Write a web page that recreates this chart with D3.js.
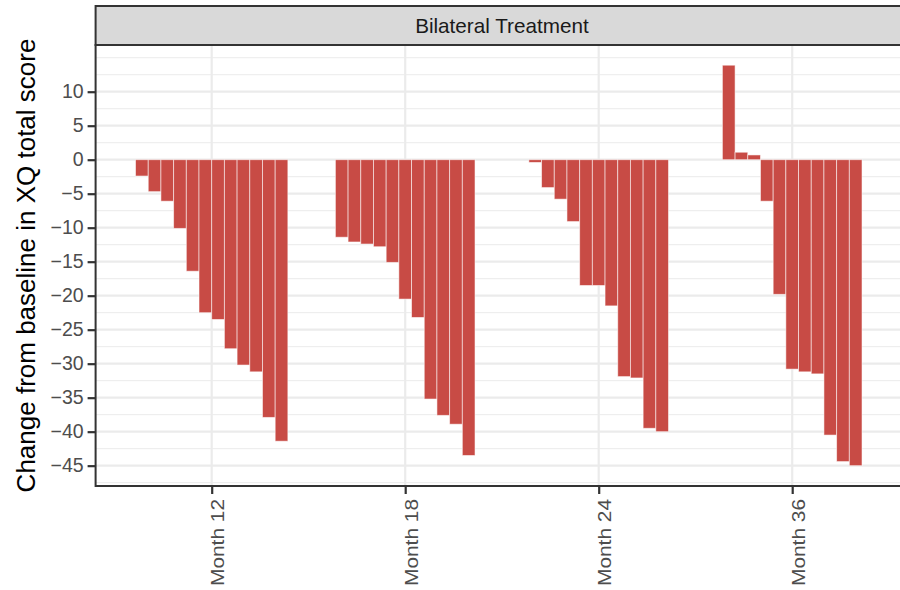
<!DOCTYPE html>
<html lang="en">
<head>
<meta charset="UTF-8">
<title>Bilateral Treatment</title>
<style type="text/css">
    body { margin: 0; background: white; }
    svg { display: block; font-family: "Liberation Sans", Arial, sans-serif; }
    .tick-label { fill: #4d4d4d; font-size: 19.5px; }
</style>
<script src="https://cdn.jsdelivr.net/npm/d3@7"></script>
</head>
<body>
<svg id="chart"></svg>
<script>
// Data, one array per visit, bars sorted within each visit
var visits = ["Month 12", "Month 18", "Month 24", "Month 36"];
var month12 = [-2.4, -4.7, -6.1, -10.1, -16.4, -22.5, -23.5, -27.8, -30.2, -31.2, -37.9, -41.4];
var month18 = [-11.4, -12.1, -12.4, -12.8, -15.1, -20.5, -23.2, -35.2, -37.6, -38.9, -43.5];
var month24 = [-0.4, -4.1, -5.8, -9.1, -18.5, -18.5, -21.5, -31.9, -32.1, -39.5, -40.0];
var month36 = [13.9, 1.1, 0.7, -6.1, -19.8, -30.8, -31.2, -31.5, -40.5, -44.4, -45.0];
var yTicks = [10, 5, 0, -5, -10, -15, -20, -25, -30, -35, -40, -45];
var panelTitle = "Bilateral Treatment";
var yTitle = "Change from baseline in XQ total score";

var series = [month12, month18, month24, month36];

var svgWidth = 900;
var svgHeight = 590;
var pLeft = 95.6, pRight = 908.3;   // panel runs past the right edge, like the picture
var pTop = 45, pBottom = 486;
var barSlot = 0.0656;               // share of one visit step taken by each bar

var svg = d3.select("#chart")
    .attr("width", svgWidth)
    .attr("height", svgHeight);

var xs = d3.scalePoint().domain(visits).range([pLeft, pRight]).padding(0.6);
var ys = d3.scaleLinear().domain([-47.99, 16.87]).range([pBottom, pTop]);

// minor and major grid
var minor = d3.range(-47.5, 16, 2.5).filter(function(v) { return v % 5 != 0; });
svg.append("g").selectAll("line")
    .data(minor)
    .enter().append("line")
    .attr("x1", pLeft).attr("x2", pRight)
    .attr("y1", function(d) { return ys(d); })
    .attr("y2", function(d) { return ys(d); })
    .style("stroke", "#ebebeb").style("stroke-width", 1);

svg.append("g").selectAll("line")
    .data(yTicks.concat([15]))
    .enter().append("line")
    .attr("x1", pLeft).attr("x2", pRight)
    .attr("y1", function(d) { return ys(d); })
    .attr("y2", function(d) { return ys(d); })
    .style("stroke", "#ebebeb").style("stroke-width", function(d) { return d == 15 ? 1 : 2.2; });

svg.append("g").selectAll("line")
    .data(visits)
    .enter().append("line")
    .attr("x1", function(d) { return xs(d); })
    .attr("x2", function(d) { return xs(d); })
    .attr("y1", pTop).attr("y2", pBottom)
    .style("stroke", "#ebebeb").style("stroke-width", 2.2);

// bars, dodged around each visit
var slot = xs.step() * barSlot;
var bars = [];
series.forEach(function(vals, gi) {
    vals.forEach(function(v, i) {
        bars.push({visit: visits[gi], i: i, n: vals.length, value: v});
    });
});

svg.append("g").selectAll("rect")
    .data(bars)
    .enter().append("rect")
    .attr("x", function(d) { return xs(d.visit) + (d.i - d.n / 2) * slot; })
    .attr("width", slot)
    .attr("y", function(d) { return ys(Math.max(0, d.value)); })
    .attr("height", function(d) { return Math.abs(ys(d.value) - ys(0)); })
    .style("fill", "#c84b45")
    .style("stroke", "white")
    .style("stroke-opacity", 0.6)
    .style("stroke-width", 0.9);

// panel border
svg.append("rect")
    .attr("x", pLeft).attr("y", pTop)
    .attr("width", pRight - pLeft).attr("height", pBottom - pTop)
    .style("fill", "none").style("stroke", "#333333").style("stroke-width", 2);

// strip
svg.append("rect")
    .attr("x", pLeft).attr("y", 6)
    .attr("width", pRight - pLeft).attr("height", pTop - 6)
    .style("fill", "#d9d9d9").style("stroke", "#333333").style("stroke-width", 2);

svg.append("text")
    .attr("x", (pLeft + pRight) / 2)
    .attr("y", 25.5)
    .attr("dy", "0.35em")
    .attr("text-anchor", "middle")
    .style("font-size", "20.7px")
    .style("fill", "#1a1a1a")
    .text(panelTitle);

// y axis
var yAxis = svg.append("g")
    .attr("transform", "translate(" + pLeft + ",0)")
    .call(d3.axisLeft(ys).tickValues(yTicks).tickSize(8).tickPadding(4)
        .tickFormat(function(d) { return d < 0 ? "\u2212" + Math.abs(d) : d; }));
yAxis.select(".domain").remove();
yAxis.selectAll(".tick line").style("stroke", "#333333").style("stroke-width", 2.2);
yAxis.selectAll(".tick text").attr("class", "tick-label");
yAxis.attr("font-family", null).attr("font-size", null);

// x axis
var xAxis = svg.append("g")
    .attr("transform", "translate(0," + pBottom + ")")
    .call(d3.axisBottom(xs).tickSize(8).tickFormat(""));
xAxis.select(".domain").remove();
xAxis.selectAll(".tick line").style("stroke", "#333333").style("stroke-width", 2.2);

svg.append("g").selectAll("text")
    .data(visits)
    .enter().append("text")
    .attr("class", "tick-label")
    .attr("transform", function(d) { return "translate(" + (xs(d) + 12.5) + "," + 499 + ") rotate(-90)"; })
    .attr("text-anchor", "end")
    .style("font-size", "17.5px")
    .attr("textLength", 87)
    .attr("lengthAdjust", "spacingAndGlyphs")
    .text(function(d) { return d; });

// y title
svg.append("text")
    .attr("transform", "translate(35," + ((pTop + pBottom) / 2) + ") rotate(-90)")
    .attr("text-anchor", "middle")
    .style("font-size", "26px")
    .style("fill", "black")
    .text(yTitle);
</script>
</body>
</html>
